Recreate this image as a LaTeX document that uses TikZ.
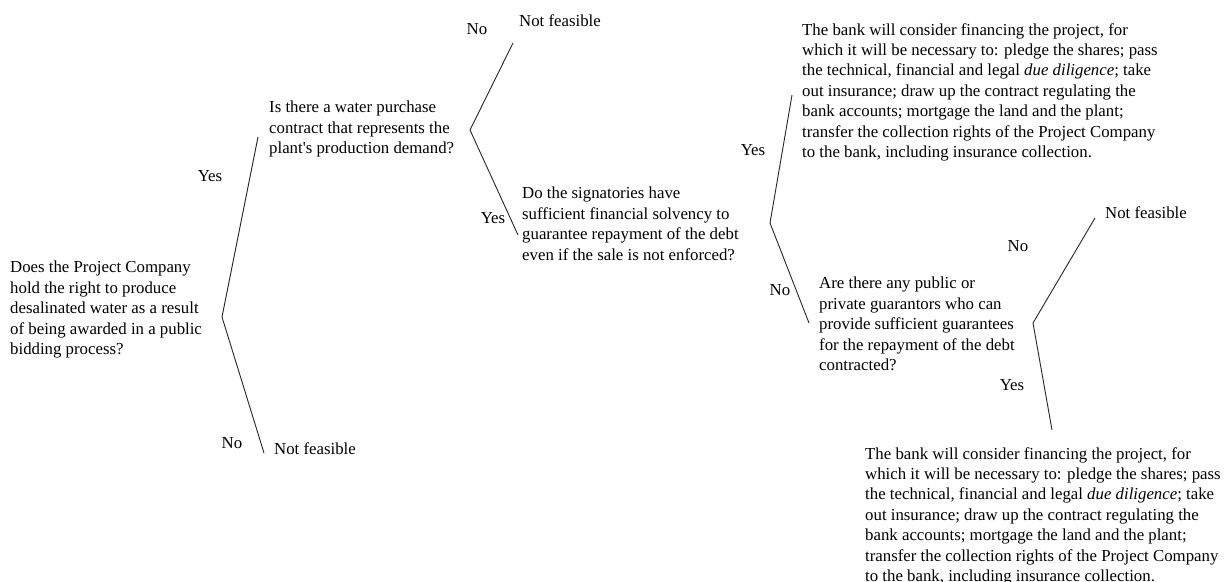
\documentclass[tikz,border=0pt]{standalone}
\usepackage{fontspec}
\setmainfont{Liberation Serif}
\begin{document}
\begin{tikzpicture}[x=1pt,y=-1pt,
  txt/.style={anchor=north west,inner sep=0pt,align=left,
    font=\fontsize{16.8}{20.4}\selectfont},
  lbl/.style={inner sep=0pt,font=\fontsize{16.8}{20.4}\selectfont},
  branch/.style={draw=black!85,line width=0.9pt}]
\useasboundingbox[fill=white] (0,0) rectangle (1226,581);

% questions and outcomes
\node[txt] (q1) at (10,261) {Does the Project Company\\hold the right to produce\\desalinated water as a result\\of being awarded in a public\\bidding process?};
\node[txt] (q2) at (269,101) {Is there a water purchase\\contract that represents the\\plant\textquotesingle s production demand?};
\node[txt] (q3) at (522,187) {Do the signatories have\\sufficient financial solvency to\\guarantee repayment of the debt\\even if the sale is not enforced?};
\node[txt] (q4) at (819,277) {Are there any public or\\private guarantors who can\\provide sufficient guarantees\\for the repayment of the debt\\contracted?};
\node[txt] (nf1) at (274,442) {Not feasible};
\node[txt] (nf2) at (519,14) {Not feasible};
\node[txt] (nf3) at (1105,206) {Not feasible};
\node[txt] (bank1) at (802,23) {The bank will consider financing the project, for\\which it will be necessary to: pledge the shares; pass\\the technical, financial and legal \textit{due diligence}; take\\out insurance; draw up the contract regulating the\\bank accounts; mortgage the land and the plant;\\transfer the collection rights of the Project Company\\to the bank, including insurance collection.};
\node[txt] (bank2) at (865,447) {The bank will consider financing the project, for\\which it will be necessary to: pledge the shares; pass\\the technical, financial and legal \textit{due diligence}; take\\out insurance; draw up the contract regulating the\\bank accounts; mortgage the land and the plant;\\transfer the collection rights of the Project Company\\to the bank, including insurance collection.};

% branch points and branch ends
\coordinate (v1) at (222,317);
\coordinate (v1yes) at (258,137);
\coordinate (v1no) at (264,453);
\coordinate (v2) at (470,130);
\coordinate (v2no) at (513,43);
\coordinate (v2yes) at (518,235);
\coordinate (v3) at (770,223);
\coordinate (v3yes) at (792,95);
\coordinate (v3no) at (809,323);
\coordinate (v4) at (1033,323);
\coordinate (v4no) at (1095,218);
\coordinate (v4yes) at (1052,430);

\draw[branch] (v1yes) -- (v1) -- (v1no);
\draw[branch] (v2no) -- (v2) -- (v2yes);
\draw[branch] (v3yes) -- (v3) -- (v3no);
\draw[branch] (v4no) -- (v4) -- (v4yes);

% answer labels
\node[lbl] (l1) at (210,176) {Yes};
\node[lbl] (l2) at (232,443) {No};
\node[lbl] (l3) at (477,29) {No};
\node[lbl] (l4) at (493,218) {Yes};
\node[lbl] (l5) at (753,150) {Yes};
\node[lbl] (l6) at (780,290) {No};
\node[lbl] (l7) at (1018,246) {No};
\node[lbl] (l8) at (1012,385) {Yes};
\end{tikzpicture}
\end{document}
